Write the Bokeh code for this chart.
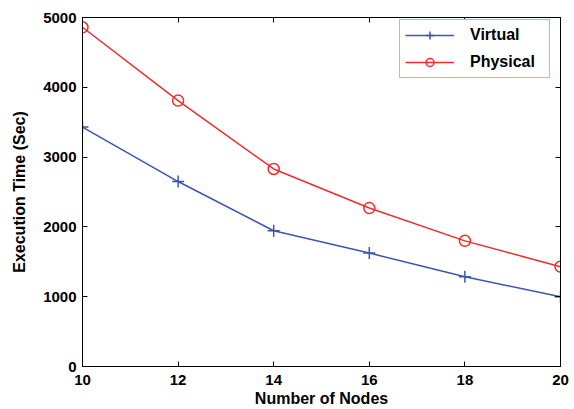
from bokeh.plotting import figure
from bokeh.models import Range1d, LinearAxis, FixedTicker, Legend, LegendItem, CustomJSTickFormatter
from bokeh.embed import file_html
from bokeh.resources import INLINE

nodes = [10, 12, 14, 16, 18, 20]
virtual = [3430, 2650, 1945, 1625, 1285, 1000]
physical = [4860, 3810, 2830, 2270, 1800, 1430]
x_ticks = [10, 12, 14, 16, 18, 20]
y_ticks = [0, 1000, 2000, 3000, 4000, 5000]

BLUE = "#3b55b0"
RED = "#f02b2b"
FONT = "Liberation Sans"

p = figure(width=574, height=409, output_backend="svg", toolbar_location=None,
           x_range=Range1d(10, 20), y_range=Range1d(0, 5000),
           min_border_left=82, min_border_right=14, min_border_top=17, min_border_bottom=42)
p.xgrid.visible = False
p.ygrid.visible = False
p.outline_line_color = "black"
p.outline_line_width = 1

for ax in [p.xaxis[0], p.yaxis[0]]:
    ax.major_tick_in = 5
    ax.major_tick_out = 0
    ax.minor_tick_line_color = None
    ax.major_label_text_font = FONT
    ax.major_label_text_font_style = "bold"
    ax.major_label_text_font_size = "15px"
    ax.major_label_text_color = "black"
    ax.axis_label_text_font = FONT
    ax.axis_label_text_font_style = "bold"
    ax.axis_label_text_font_size = "16px"
    ax.axis_label_text_color = "black"
    ax.axis_line_color = "black"
    ax.major_tick_line_color = "black"

p.xaxis[0].ticker = FixedTicker(ticks=x_ticks)
p.yaxis[0].ticker = FixedTicker(ticks=y_ticks)
p.xaxis[0].axis_label = "Number of Nodes"
p.yaxis[0].axis_label = "Execution Time (Sec)"
p.xaxis[0].major_label_standoff = 8
p.xaxis[0].axis_label_standoff = 2
p.yaxis[0].major_label_standoff = 6
p.yaxis[0].axis_label_standoff = 12

blank = CustomJSTickFormatter(code="return '';")
top = LinearAxis(ticker=FixedTicker(ticks=x_ticks), formatter=blank,
                 major_tick_in=5, major_tick_out=0, minor_tick_line_color=None,
                 major_label_standoff=0)
right = LinearAxis(ticker=FixedTicker(ticks=y_ticks), formatter=blank,
                   major_tick_in=5, major_tick_out=0, minor_tick_line_color=None,
                   major_label_standoff=0)
p.add_layout(top, "above")
p.add_layout(right, "right")

lv = p.line(nodes, virtual, line_color=BLUE, line_width=1.5)
mv = p.scatter(nodes, virtual, marker="cross", size=12, line_color=BLUE, line_width=1.5)
lp = p.line(nodes, physical, line_color=RED, line_width=1.5)
mp = p.scatter(nodes, physical, marker="circle", size=11, line_color=RED, fill_color=None, line_width=1.5)

legend = Legend(items=[LegendItem(label="Virtual", renderers=[lv, mv]),
                       LegendItem(label="Physical", renderers=[lp, mp])],
                location=(317, 288), orientation="vertical",
                border_line_color="#f04040", border_line_width=1.2,
                background_fill_color="white", background_fill_alpha=1,
                label_text_font=FONT, label_text_font_style="bold", label_text_font_size="16px",
                label_text_color="black",
                glyph_width=49, glyph_height=20, label_height=20, label_width=74,
                label_standoff=16, padding=5, spacing=7, margin=0)
p.add_layout(legend, "center")

open("out.html", "w").write(file_html(p, INLINE))
